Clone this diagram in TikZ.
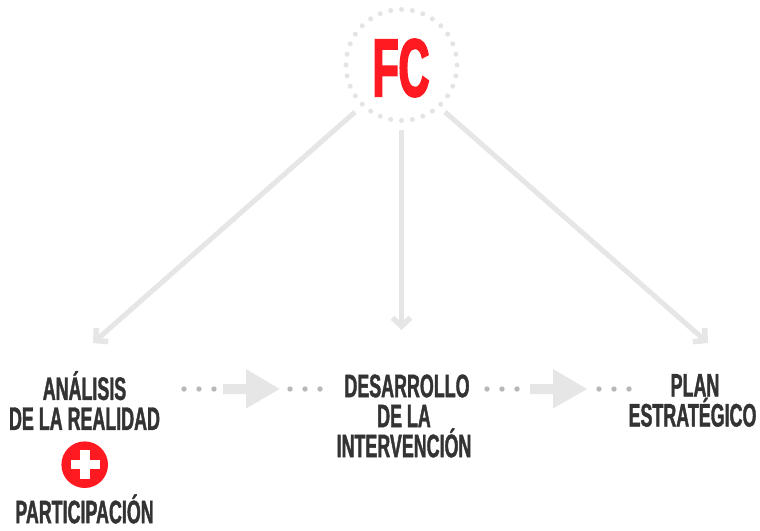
\documentclass[tikz,border=0pt]{standalone}
\usepackage{fontspec}
\usetikzlibrary{arrows.meta}
\newfontfamily\condfont[FakeStretch=0.55,FakeBold=1.2]{Liberation Sans Bold}
\newfontfamily\fcfont[FakeStretch=0.52,FakeBold=2.2]{Liberation Sans Bold}
\definecolor{fcred}{HTML}{FF1A22}
\definecolor{lightg}{HTML}{E6E6E6}
\definecolor{dotg}{HTML}{B8B8B8}
\definecolor{ringg}{HTML}{E4E4E4}
\definecolor{txt}{HTML}{333333}
\tikzset{
  label/.style={inner sep=0pt,align=center,text=txt,font=\condfont\fontsize{32.5}{30}\selectfont},
  fc arrow/.style={draw=lightg,line width=5pt,-{Straight Barb[length=8.5pt,width=18pt,line width=5.5pt]}},
  flow/.style={fill=lightg,draw=none},
  flowdot/.style={circle,fill=dotg,minimum size=5.4pt,inner sep=0pt},
  ringdot/.style={circle,fill=ringg,minimum size=5pt,inner sep=0pt}
}
\begin{document}
\begin{tikzpicture}[x=1pt,y=-1pt]
\useasboundingbox (0,0) rectangle (760,530);
\fill[white] (0,0) rectangle (760,530);
% FC ring
\foreach \a in {0,11.25,...,349} \node[ringdot] at ({401.5+55.5*cos(\a)},{65+55.5*sin(\a)}) {};
\node[inner sep=0pt,text=fcred,font=\fcfont\fontsize{82}{82}\selectfont] (fc) at (401,68) {FC};
% connector ends
\coordinate (sl) at (355,112);
\coordinate (sm) at (401.5,130);
\coordinate (sr) at (445,112);
\coordinate (el) at (93,343);
\coordinate (em) at (401.5,330);
\coordinate (er) at (708,343);
\draw[fc arrow] (sl) -- (el);
\draw[fc arrow] (sm) -- (em);
\draw[fc arrow] (sr) -- (er);
% labels
\node[label] (ana) at (84.5,400.5) {ANÁLISIS\\DE LA REALIDAD};
\node[circle,fill=fcred,minimum size=46.6pt,inner sep=0pt] (plus) at (84.7,464.7) {};
\fill[white] (70.7,460) rectangle (100,469.4);
\fill[white] (80.2,450) rectangle (89.5,479.4);
\node[label] (par) at (84.5,509) {PARTICIPACIÓN};
\node[label] (des) at (404,416) {\hspace*{6pt}DESARROLLO\\DE LA\\INTERVENCIÓN};
\node[label] (pla) at (692.5,400.5) {\hspace*{5pt}PLAN\\ESTRATÉGICO};
% flow arrows
\fill[flow] (223,384) -- (246,384) -- (246,369) -- (279.5,389) -- (246,408.5) -- (246,394) -- (223,394) -- cycle;
\fill[flow] (530,384) -- (553,384) -- (553,369) -- (587,389) -- (553,408.5) -- (553,394) -- (530,394) -- cycle;
\foreach \x in {184,199,214,290,305,320,487,502,517,599,614,629} \node[flowdot] at (\x,389) {};
\end{tikzpicture}
\end{document}
